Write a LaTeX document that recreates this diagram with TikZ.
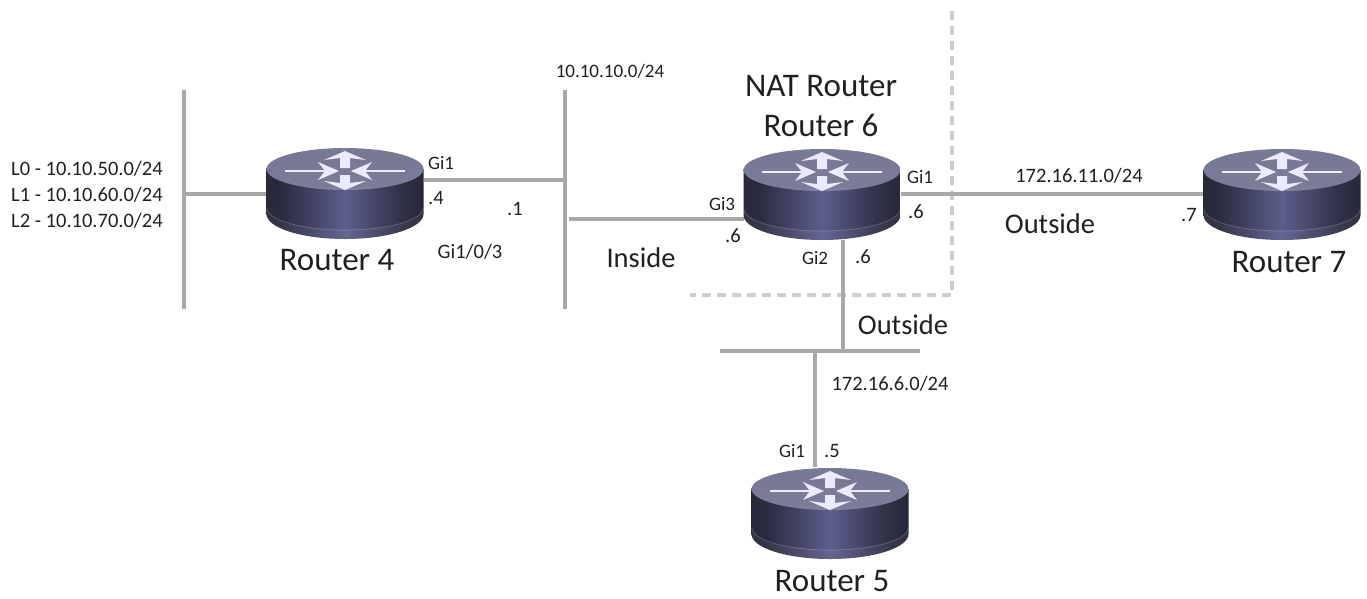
\documentclass[tikz,border=0pt]{standalone}
\usepackage{fontspec}
\setmainfont{Carlito}
\usetikzlibrary{calc}
\definecolor{linkgray}{RGB}{168,168,168}
\definecolor{dashgray}{RGB}{205,205,205}
\definecolor{inkdark}{RGB}{32,32,32}
\pgfdeclarehorizontalshading{routerside}{100bp}{
 rgb(0bp)=(0.25,0.25,0.33);
 rgb(12bp)=(0.12,0.12,0.17);
 rgb(30bp)=(0.17,0.17,0.25);
 rgb(50bp)=(0.36,0.37,0.55);
 rgb(68bp)=(0.19,0.19,0.28);
 rgb(85bp)=(0.10,0.10,0.15);
 rgb(100bp)=(0.27,0.27,0.34)}
\pgfdeclareverticalshading{routertop}{100bp}{
 rgb(0bp)=(0.68,0.69,0.75);
 rgb(30bp)=(0.48,0.49,0.60);
 rgb(70bp)=(0.46,0.47,0.58);
 rgb(100bp)=(0.58,0.59,0.68)}
\tikzset{
 x=1pt,y=-1pt,
 link/.style={draw=linkgray,line width=4.6pt},
 zone/.style={draw=dashgray,line width=3.4pt,dash pattern=on 9pt off 6pt},
 routerbox/.style={minimum width=157pt,minimum height=92pt,inner sep=0pt,outer sep=0pt},
 rlabel/.style={font=\fontsize{33}{38}\selectfont,inner sep=0pt,text=inkdark},
 small/.style={font=\fontsize{20.5}{24}\selectfont,inner sep=0pt,text=inkdark},
 gi/.style={font=\fontsize{19}{23}\selectfont,inner sep=0pt,text=inkdark},
 mid/.style={font=\fontsize{28.5}{32}\selectfont,inner sep=0pt,text=inkdark},
 arrowline/.style={draw=white!92!blue,line width=2.8pt},
 arrowtip/.style={fill=white!92!blue,draw=none},
}
% router body: #1 = centre x, #2 = centre y of the node
\newcommand{\routerart}[2]{%
 \begin{scope}[shift={(#1,#2)}]
  \path[shading=routerside] (-78.5,-24) -- (-78.5,21) arc[start angle=180,end angle=0,x radius=78.5,y radius=25] -- (78.5,-24) -- cycle;
  \fill[white,opacity=.05] (-78.5,15) arc[start angle=180,end angle=0,x radius=78.5,y radius=22] -- (78.5,21) arc[start angle=0,end angle=180,x radius=78.5,y radius=25] -- cycle;
  \draw[white,line width=.8pt,opacity=.2] (-78,15) arc[start angle=180,end angle=0,x radius=78,y radius=22];
  \path[shading=routertop] (0,-24) ellipse[x radius=78.5,y radius=21];
  \draw[arrowline] (-60,-22) -- (-20,-22);
  \draw[arrowline] (60,-22) -- (20,-22);
  \fill[arrowtip] (-6,-22) -- (-27,-31) -- (-20,-22) -- (-27,-13) -- cycle;
  \fill[arrowtip] (6,-22) -- (27,-31) -- (20,-22) -- (27,-13) -- cycle;
  \fill[arrowtip] (-5,-25) -- (-5,-35) -- (-21,-33) -- (0,-42) -- (21,-33) -- (5,-35) -- (5,-25) -- cycle;
  \fill[arrowtip] (-5,-18) -- (-5,-10) -- (-21,-12) -- (0,-3) -- (21,-12) -- (5,-10) -- (5,-18) -- cycle;
 \end{scope}}
\begin{document}
\begin{tikzpicture}
\useasboundingbox (0,0) rectangle (1367,598);
% routers
\node[routerbox] (r4) at (345,193) {};
\node[routerbox] (r6) at (822,194) {};
\node[routerbox] (r7) at (1282,194) {};
\node[routerbox] (r5) at (830,513) {};
% buses
\coordinate (leftT) at (184,90); \coordinate (leftB) at (184,309);
\coordinate (midT) at (565,90); \coordinate (midB) at (565,309);
\coordinate (hbL) at (720,351); \coordinate (hbR) at (920,351);
\coordinate (leftJ) at (184,194);
\coordinate (midJ1) at (565,180);
\coordinate (midJ2) at (569,219);
\coordinate (hbJ1) at (843,351);
\coordinate (hbJ2) at (815,351);
\coordinate (zA) at (952,11); \coordinate (zB) at (952,295); \coordinate (zC) at (690,295);
\coordinate (r6r7) at (0,194);
% zone
\draw[zone] (zA) -- (zB) -- (zC);
% links
\draw[link] (leftT) -- (leftB);
\draw[link] (midT) -- (midB);
\draw[link] (hbL) -- (hbR);
\draw[link] (leftJ) -- (r4.west |- leftJ);
\draw[link] (midJ1) -- (r4.east |- midJ1);
\draw[link] (midJ2) -- (r6.west |- midJ2);
\draw[link] (r6.east |- r6r7) -- (r7.west |- r6r7);
\draw[link] (hbJ1 |- r6.south) -- (hbJ1);
\draw[link] (hbJ2) -- (hbJ2 |- r5.north);
% router art
\routerart{345}{193}
\routerart{822}{194}
\routerart{1282}{194}
\routerart{830}{513}
% labels
\node[small,anchor=west] (t1) at (11,169) {L0 - 10.10.50.0/24};
\node[small,anchor=west] (t2) at (11,195) {L1 - 10.10.60.0/24};
\node[small,anchor=west] (t3) at (11,221) {L2 - 10.10.70.0/24};
\node[rlabel] (l4) at (337,260) {Router 4};
\node[rlabel] (l6a) at (821,86) {NAT Router};
\node[rlabel] (l6b) at (821,125) {Router 6};
\node[rlabel] (l7) at (1289,262) {Router 7};
\node[rlabel] (l5) at (832,581) {Router 5};
\node[gi] (a1) at (441,163) {Gi1};
\node[small] (a2) at (436,198) {.4};
\node[small] (a3) at (515,209) {.1};
\node[small] (a4) at (470,252) {Gi1/0/3};
\node[gi] (a5) at (610,71) {10.10.10.0/24};
\node[mid] (a6) at (641,258) {Inside};
\node[gi] (a7) at (722,204) {Gi3};
\node[small] (a8) at (733,236) {.6};
\node[gi] (a9) at (920,177) {Gi1};
\node[small] (a10) at (916,212) {.6};
\node[gi] (a11) at (815,258) {Gi2};
\node[small] (a12) at (863,257) {.6};
\node[small] (a13) at (1079,176) {172.16.11.0/24};
\node[mid] (a14) at (1050,224) {Outside};
\node[small] (a15) at (1189,215) {.7};
\node[mid] (a16) at (903,325) {Outside};
\node[small] (a17) at (890,384) {172.16.6.0/24};
\node[gi] (a18) at (792,451) {Gi1};
\node[small] (a19) at (832,451) {.5};
\end{tikzpicture}
\end{document}
